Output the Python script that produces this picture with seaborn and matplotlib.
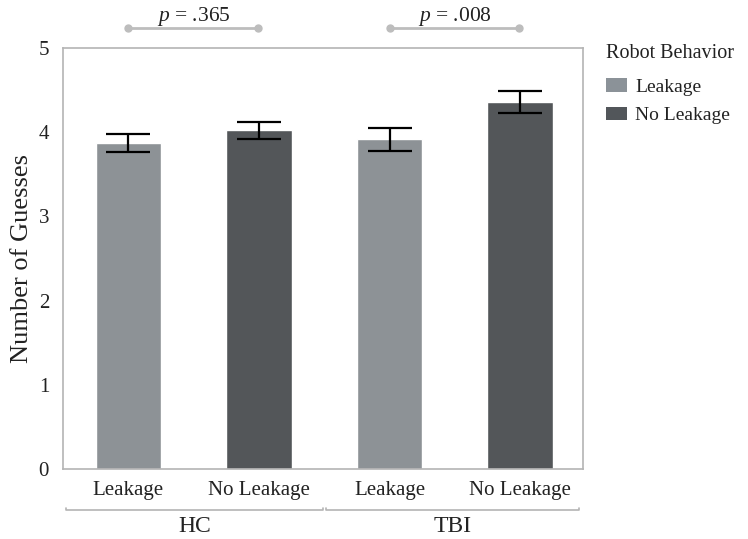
import matplotlib

matplotlib.use("Agg")
import matplotlib.pyplot as plt
import seaborn as sns
import pandas as pd
from matplotlib.patches import Patch

# Data
groups = ["HC", "HC", "TBI", "TBI"]
behaviors = ["Leakage", "No Leakage", "Leakage", "No Leakage"]
means = [3.87, 4.02, 3.92, 4.36]
err_low = [3.76, 3.92, 3.78, 4.23]
err_high = [3.98, 4.12, 4.05, 4.49]
p_labels = ["= .365", "= .008"]

colors = {"Leakage": "#8b9298", "No Leakage": "#52565a"}
spine_color = "#b4b4b4"

df = pd.DataFrame(
    {
        "cond": [f"{g} {b}" for g, b in zip(groups, behaviors)],
        "group": groups,
        "behavior": behaviors,
        "mean": means,
    }
)

sns.set_style("white")
plt.rcParams["font.family"] = ["Liberation Serif", "DejaVu Serif"]
plt.rcParams["mathtext.fontset"] = "custom"
plt.rcParams["mathtext.it"] = "Liberation Serif:italic"
plt.rcParams["mathtext.rm"] = "Liberation Serif"

fig = plt.figure(figsize=(7.48, 5.39), dpi=100)
ax = fig.add_axes([0.0842, 0.1299, 0.695, 0.7811])

sns.barplot(
    data=df,
    x="cond",
    y="mean",
    hue="behavior",
    palette=colors,
    dodge=False,
    width=0.5,
    legend=False,
    ax=ax,
)

xs = list(range(len(means)))
yerr = [
    [m - lo for m, lo in zip(means, err_low)],
    [hi - m for m, hi in zip(means, err_high)],
]
ax.errorbar(xs, means, yerr=yerr, fmt="none", ecolor="black", elinewidth=1.6,
            capsize=16, capthick=1.6, zorder=5)

ax.set_xlim(-0.5, 3.48)
ax.set_ylim(0, 5)
ax.set_yticks([0, 1, 2, 3, 4, 5])
ax.set_xticks(xs)
ax.set_xticklabels(behaviors, fontsize=15, color="#222222")
ax.tick_params(axis="y", labelsize=15, length=6, width=1, color=spine_color,
               labelcolor="#222222", pad=4)
ax.tick_params(axis="x", length=0, pad=9)
ax.set_xlabel("")
ax.set_ylabel("Number of Guesses", fontsize=19, color="#222222", labelpad=4)
for s in ax.spines.values():
    s.set_color(spine_color)
    s.set_linewidth(1.2)

# group brackets under the tick labels
for gname, x0, x1 in [("HC", -0.48, 1.49), ("TBI", 1.51, 3.45)]:
    ax.plot([x0, x0, x1, x1], [-0.46, -0.49, -0.49, -0.46], color=spine_color,
            lw=1.2, clip_on=False)
    ax.text((x0 + x1) / 2, -0.56, gname, ha="center", va="top", fontsize=17,
            color="#222222")

# p-value brackets above the plot
for (a, b), lab in zip([(0, 1), (2, 3)], p_labels):
    ax.plot([a, b - 0.01], [5.24, 5.24], color="#bdbdbd", lw=2,
            marker="o", markersize=5, clip_on=False)
    ax.text((a + b) / 2, 5.32, r"$p$ " + lab, ha="center", va="baseline",
            fontsize=15.5, color="#222222")

handles = [Patch(facecolor=colors[k], edgecolor="none", label=k) for k in colors]
leg = fig.legend(
    handles=handles,
    title="Robot Behavior",
    loc="upper left",
    bbox_to_anchor=(0.81, 0.918),
    frameon=False,
    fontsize=14,
    title_fontsize=14.5,
    handlelength=1.1,
    handleheight=0.7,
    handletextpad=0.4,
    labelspacing=0.55,
    borderpad=0,
    borderaxespad=0,
)
leg._legend_box.align = "left"
leg._legend_box.sep = 11
for t in leg.get_texts():
    t.set_color("#222222")
leg.get_title().set_color("#222222")

fig.savefig("out.png", dpi=100)
